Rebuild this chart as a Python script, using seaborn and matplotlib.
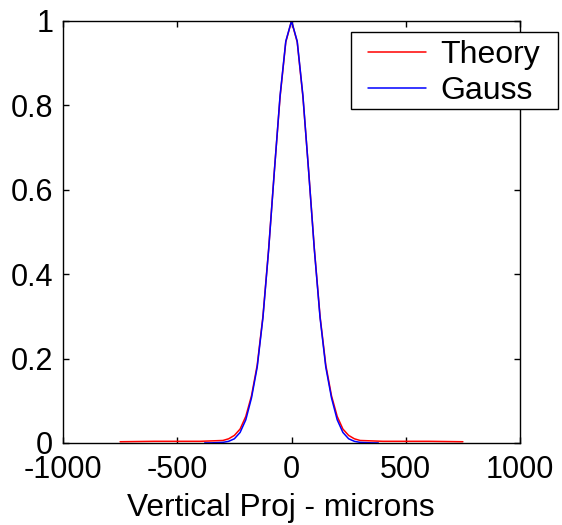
import seaborn as sns
import matplotlib.pyplot as plt
from matplotlib.patches import Rectangle

# Curvas (microns, intensidade normalizada)
theory_x = [-750, -600, -500, -400, -350, -300, -275, -250, -225, -200, -175, -150, -125, -100, -75, -50, -25, 0,
            25, 50, 75, 100, 125, 150, 175, 200, 225, 250, 275, 300, 350, 400, 500, 600, 750]
theory_y = [0.003, 0.004, 0.004, 0.004, 0.005, 0.006, 0.010, 0.018, 0.033, 0.063, 0.112, 0.185, 0.300, 0.460, 0.645, 0.820, 0.950, 1.000,
            0.950, 0.820, 0.645, 0.460, 0.300, 0.185, 0.112, 0.063, 0.033, 0.018, 0.010, 0.006, 0.005, 0.004, 0.004, 0.004, 0.003]

gauss_x = [-380, -350, -300, -275, -250, -225, -200, -175, -150, -125, -100, -75, -50, -25, 0,
           25, 50, 75, 100, 125, 150, 175, 200, 225, 250, 275, 300, 350, 380]
gauss_y = [0.0001, 0.0003, 0.0015, 0.004, 0.010, 0.025, 0.055, 0.107, 0.180, 0.297, 0.458, 0.644, 0.823, 0.952, 1.000,
           0.952, 0.823, 0.644, 0.458, 0.297, 0.180, 0.107, 0.055, 0.025, 0.010, 0.004, 0.0015, 0.0003, 0.0001]

xticks = [-1000, -500, 0, 500, 1000]
yticks = [0, 0.2, 0.4, 0.6, 0.8, 1]
ytick_labels = ["0", "0.2", "0.4", "0.6", "0.8", "1"]

sns.set_theme(style="white", rc={"text.color": "black", "axes.labelcolor": "black",
                                 "xtick.color": "black", "ytick.color": "black"})
plt.rcParams['font.family'] = ['Liberation Sans', 'DejaVu Sans']

W, H = 562, 525
fig = plt.figure(figsize=(W / 100, H / 100), dpi=100)
ax = fig.add_axes([63 / W, 1 - 443 / H, 457 / W, 422 / H])

sns.lineplot(x=theory_x, y=theory_y, color="red", linewidth=1.1, label="Theory", ax=ax)
sns.lineplot(x=gauss_x, y=gauss_y, color="blue", linewidth=1.1, label="Gauss", ax=ax)

ax.set_xlim(-1000, 1000)
ax.set_ylim(0, 1)
ax.set_xticks(xticks)
ax.set_xticklabels([str(t) for t in xticks])
ax.set_yticks(yticks)
ax.set_yticklabels(ytick_labels)
ax.set_xlabel("Vertical Proj - microns", fontsize=22.8)
ax.xaxis.set_label_coords(0.4775, -0.118)
ax.set_ylabel("")

ax.tick_params(direction="in", length=4, width=1, color="black", labelsize=22,
               top=True, right=True, bottom=True, left=True)
ax.tick_params(axis="y", pad=7)
ax.tick_params(axis="x", pad=9)
for s in ax.spines.values():
    s.set_color("black")
    s.set_linewidth(1)

# legenda estilo MATLAB: caixa fixa, passa da borda direita do eixo
leg = ax.legend(loc="upper left", bbox_to_anchor=(368 / W, 1 - 40 / H), bbox_transform=fig.transFigure,
                fontsize=23, frameon=False, handlelength=1.8, handletextpad=0.45,
                borderpad=0, labelspacing=0.2, borderaxespad=0)
leg.set_zorder(6)
ax.add_patch(Rectangle((351 / W, 1 - 109 / H), 207 / W, 77 / H, transform=fig.transFigure,
                       facecolor="white", edgecolor="black", linewidth=1, zorder=5, clip_on=False))

fig.savefig("out.png", dpi=100)
